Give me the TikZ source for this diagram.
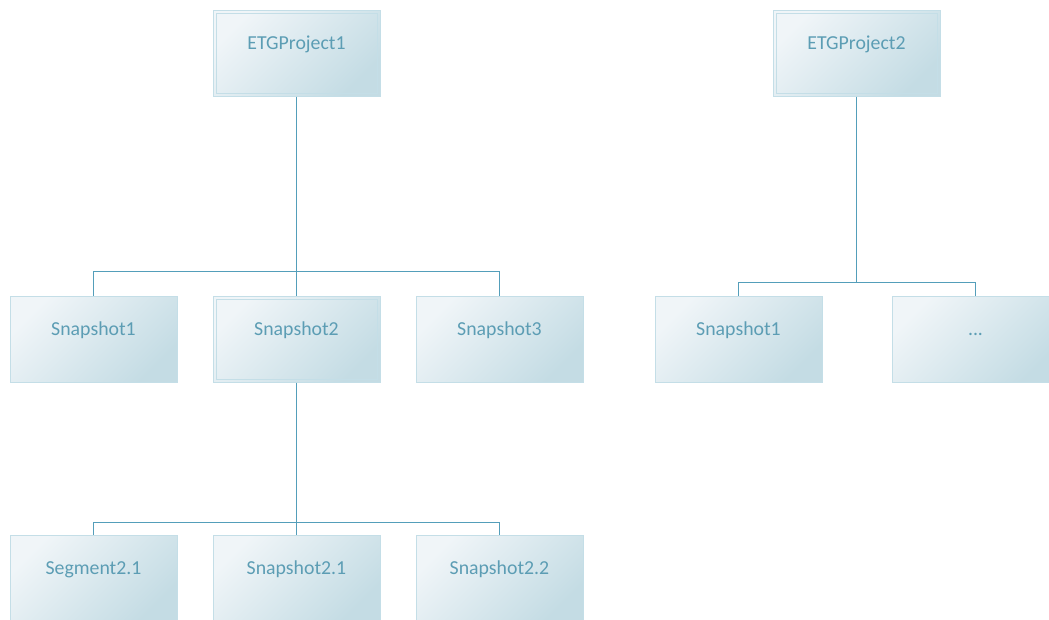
\documentclass[tikz,border=0pt]{standalone}
\usepackage{fontspec}
\setmainfont{Carlito}
\usetikzlibrary{calc}
\definecolor{boxtext}{RGB}{92,157,180}
\definecolor{boxline}{RGB}{196,222,231}
\definecolor{boxlight}{RGB}{240,245,248}
\definecolor{boxdark}{RGB}{196,220,228}
\definecolor{conline}{RGB}{84,158,186}

\begin{document}
\begin{tikzpicture}[x=1pt, y=-1pt,
  box/.style={draw=boxline, line width=1pt, top color=boxlight, bottom color=boxdark, shading angle=45,
    minimum width=167pt, minimum height=86pt, inner sep=0pt, text height=14pt, text depth=21pt,
    font=\fontsize{19.8}{22}\selectfont, text=boxtext},
  parent/.style={box, path picture={\draw[boxline, line width=1pt]
    ([shift={(3pt,-3pt)}]path picture bounding box.north west) rectangle
    ([shift={(-3pt,3pt)}]path picture bounding box.south east);}},
  conn/.style={draw=conline, line width=1pt}]
\useasboundingbox (0,0) rectangle (1049,619);
\clip (0,0) rectangle (1049,619);

%% ── project 1 ────────────────────────────────────────────
\node[parent] (p1)  at (296.5,53)  {ETGProject1};
\node[box]    (s1)  at (93.5,339)  {Snapshot1};
\node[parent] (s2)  at (296.5,339) {Snapshot2};
\node[box]    (s3)  at (499.5,339) {Snapshot3};
\node[box]    (g21) at (93.5,578)  {Segment2.1};
\node[box]    (s21) at (296.5,578) {Snapshot2.1};
\node[box]    (s22) at (499.5,578) {Snapshot2.2};

%% ── project 2 ────────────────────────────────────────────
\node[parent] (p2)  at (856.5,53)  {ETGProject2};
\node[box]    (t1)  at (738.5,339) {Snapshot1};
\node[box]    (t2)  at (975.5,339) {...};

%% ── connectors ───────────────────────────────────────────
\coordinate (bus1) at (0,271);
\coordinate (bus2) at (0,522);
\coordinate (bus3) at (0,282);
\draw[conn] (p1.south) -- (p1.south |- bus1);
\draw[conn] (s1.north |- bus1) -- (s3.north |- bus1);
\foreach \c in {s1,s2,s3}{\draw[conn] (\c.north |- bus1) -- (\c.north);}
\draw[conn] (s2.south) -- (s2.south |- bus2);
\draw[conn] (g21.north |- bus2) -- (s22.north |- bus2);
\foreach \c in {g21,s21,s22}{\draw[conn] (\c.north |- bus2) -- (\c.north);}
\draw[conn] (p2.south) -- (p2.south |- bus3);
\draw[conn] (t1.north |- bus3) -- (t2.north |- bus3);
\foreach \c in {t1,t2}{\draw[conn] (\c.north |- bus3) -- (\c.north);}
\end{tikzpicture}
\end{document}
